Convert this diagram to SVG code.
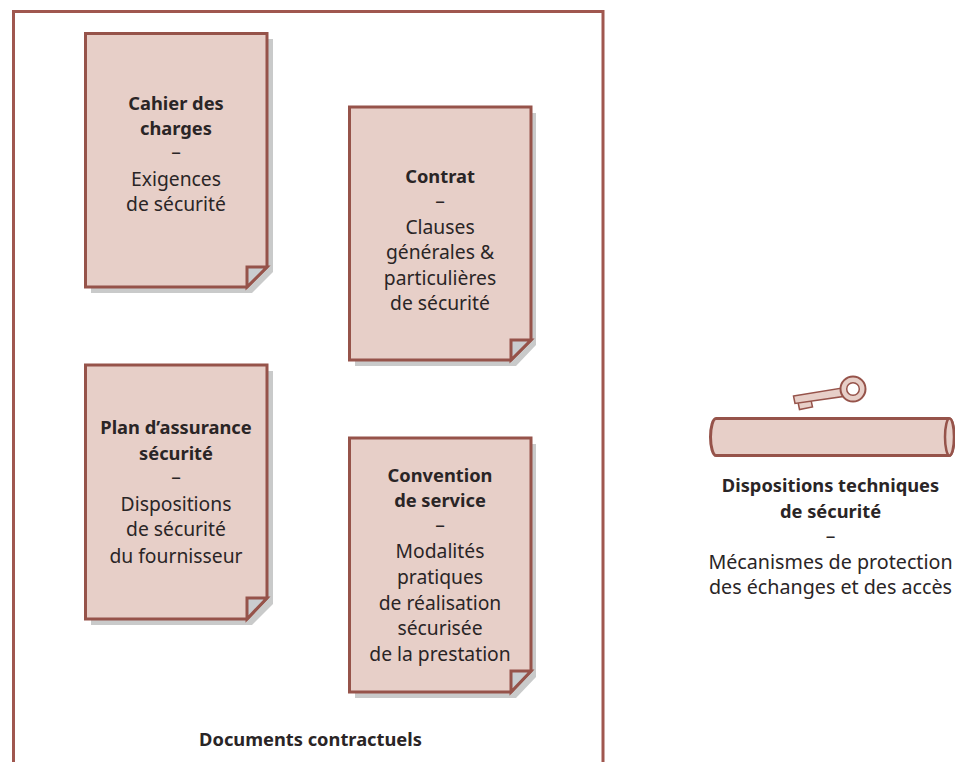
<svg xmlns="http://www.w3.org/2000/svg" width="955" height="762" viewBox="0 0 955 762">
<style>
text{font-family:"Noto Sans","Liberation Sans",sans-serif;font-size:19.300px;fill:#2a2526;text-anchor:middle}
.b{font-weight:700;font-size:18.300px}
.r{font-size:19.700px}
.sh{fill:#c9caca}
.pg{fill:#e7cfc8;stroke:#96534a;stroke-width:3;stroke-linejoin:miter}
.fold{fill:#c9cdd0;stroke:#96534a;stroke-width:3;stroke-linejoin:miter}
</style>
<rect width="955" height="762" fill="#fff"/>
<path id="frame" d="M13.500 762V11.500H603V762" fill="none" stroke="#a0574f" stroke-width="3"/>
<g id="doc-cahier">
<path class="sh" d="M91 39H273V272L252 293H91Z"/>
<path class="pg" d="M85.500 33.500H267V267L247 287H85.500Z"/>
<path class="fold" d="M247 287V267H267Z"/>
<text x="176" y="110" class="b">Cahier des</text>
<text x="176" y="135" class="b">charges</text>
<text x="176" y="159">–</text>
<text x="176" y="186">Exigences</text>
<text x="176" y="211">de sécurité</text>
</g>
<g id="doc-contrat">
<path class="sh" d="M355 113H536V345L516 366H355Z"/>
<path class="pg" d="M349.500 107H531V340L511 360H349.500Z"/>
<path class="fold" d="M511 360V340H531Z"/>
<text x="440" y="183" class="b">Contrat</text>
<text x="440" y="208">–</text>
<text x="440" y="234">Clauses</text>
<text x="440" y="259">générales &amp;</text>
<text x="440" y="285">particulières</text>
<text x="440" y="310">de sécurité</text>
</g>
<g id="doc-plan">
<path class="sh" d="M91 371H273V604L252 625H91Z"/>
<path class="pg" d="M85.500 365H267V598L247 619H85.500Z"/>
<path class="fold" d="M247 619V598H267Z"/>
<text x="176" y="434" class="b">Plan d’assurance</text>
<text x="176" y="460" class="b">sécurité</text>
<text x="176" y="484">–</text>
<text x="176" y="511">Dispositions</text>
<text x="176" y="536">de sécurité</text>
<text x="176" y="563">du fournisseur</text>
</g>
<g id="doc-convention">
<path class="sh" d="M355 444H536V677L516 698H355Z"/>
<path class="pg" d="M349.500 438H531V671L511 692H349.500Z"/>
<path class="fold" d="M511 692V671H531Z"/>
<text x="440" y="482" class="b">Convention</text>
<text x="440" y="507" class="b">de service</text>
<text x="440" y="532">–</text>
<text x="440" y="558">Modalités</text>
<text x="440" y="584">pratiques</text>
<text x="440" y="610">de réalisation</text>
<text x="440" y="635">sécurisée</text>
<text x="440" y="661">de la prestation</text>
</g>
<text id="label-documents" x="310.500" y="746" class="b">Documents contractuels</text>
<g id="tube">
<path d="M716 418.500H949C952 418.500 954 427 954 437S952 455.500 949 455.500H716C713 455.500 710.500 447 710.500 437S713 418.500 716 418.500Z" fill="#e7cfc8" stroke="#96534a" stroke-width="3"/>
<ellipse cx="949.500" cy="437" rx="4.500" ry="18.500" fill="#e7cfc8" stroke="#96534a" stroke-width="2.500"/>
</g>
<g id="key" fill="#e7cfc8" stroke="#96534a" stroke-width="1.500">
<path d="M798 402L811 400L812.500 407L799.500 409.500Z"/>
<path d="M793.500 396L842 388L843 396.500L795 403.500Z"/>
<circle cx="853" cy="389" r="12.500" stroke-width="2"/>
<circle cx="853" cy="389" r="6.300" fill="#fff"/>
</g>
<g id="label-dispositions">
<text x="830.500" y="492" class="b">Dispositions techniques</text>
<text x="830.500" y="518" class="b">de sécurité</text>
<text x="830.500" y="543">–</text>
<text x="830.500" y="569" class="r">Mécanismes de protection</text>
<text x="830.500" y="594" class="r">des échanges et des accès</text>
</g>
</svg>
